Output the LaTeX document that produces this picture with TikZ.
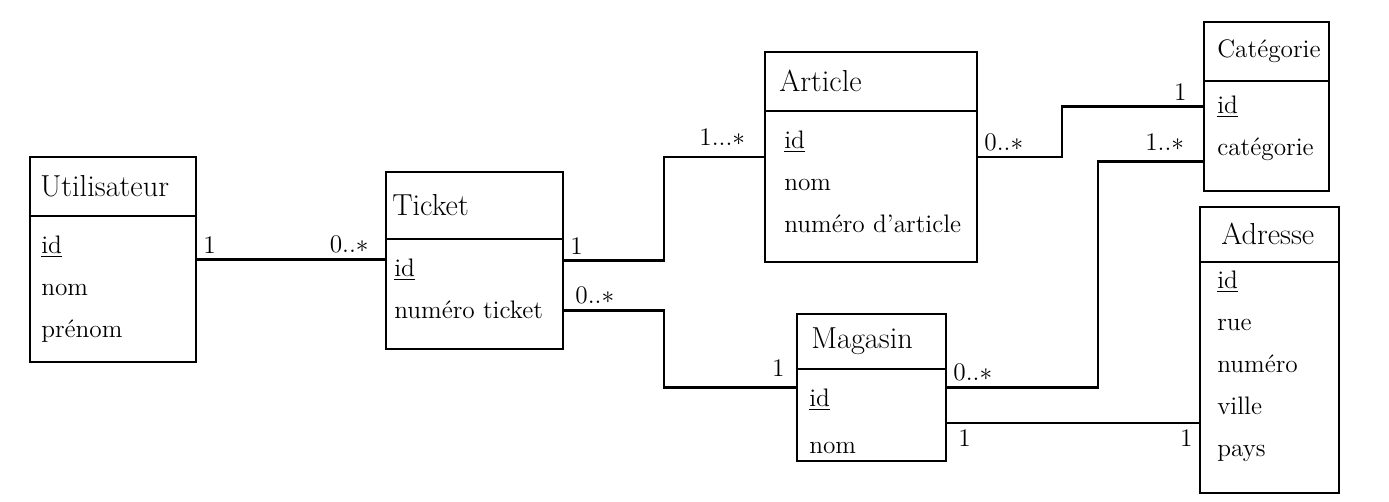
\documentclass[tikz,border=0pt]{standalone}
\usepackage{tikz}
\usetikzlibrary{positioning, calc}
\tikzset{
  classbox/.style={draw, line width=1.2pt, rectangle, inner sep=0pt},
  classname/.style={anchor=west, font=\LARGE, inner sep=0pt},
  attr/.style={anchor=base west, font=\Large, inner sep=0pt},
  assoc/.style={line width=1.2pt},
  mult/.style={font=\Large, inner sep=3pt}
}

\begin{document}
\begin{tikzpicture}
  \useasboundingbox (0,0) rectangle (27.78,-10.02);
  %% Classes: box, header line, name, attributes
  % Utilisateur
  \node[classbox, minimum width=3.32cm, minimum height=4.10cm] (util) at (2.26,-5.19) {};
  \draw[assoc] ([yshift=-1.2cm]util.north west) -- ([yshift=-1.2cm]util.north east);
  \node[classname] (util-name) at ([xshift=0.22cm, yshift=-0.6cm]util.north west) {Utilisateur};
  \foreach \a [count=\i] in {\underline{id}, nom, prénom}
    \node[attr] (util-a\i) at ([xshift=0.24cm, yshift={-1.96cm-(\i-1)*0.84cm}]util.north west) {\a};

  % Ticket
  \node[classbox, minimum width=3.54cm, minimum height=3.54cm] (ticket) at (9.49,-5.21) {};
  \draw[assoc] ([yshift=-1.36cm]ticket.north west) -- ([yshift=-1.36cm]ticket.north east);
  \node[classname] (ticket-name) at ([xshift=0.14cm, yshift=-0.68cm]ticket.north west) {Ticket};
  \foreach \a [count=\i] in {\underline{id}, numéro ticket}
    \node[attr] (ticket-a\i) at ([xshift=0.18cm, yshift={-2.12cm-(\i-1)*0.84cm}]ticket.north west) {\a};

  % Article
  \node[classbox, minimum width=4.24cm, minimum height=4.20cm] (article) at (17.42,-3.14) {};
  \draw[assoc] ([yshift=-1.2cm]article.north west) -- ([yshift=-1.2cm]article.north east);
  \node[classname] (article-name) at ([xshift=0.3cm, yshift=-0.6cm]article.north west) {Article};
  \foreach \a [count=\i] in {\underline{id}, nom, numéro d'article}
    \node[attr] (article-a\i) at ([xshift=0.4cm, yshift={-1.96cm-(\i-1)*0.84cm}]article.north west) {\a};

  % Catégorie
  \node[classbox, minimum width=2.50cm, minimum height=3.38cm] (cat) at (25.33,-2.13) {};
  \draw[assoc] ([yshift=-1.2cm]cat.north west) -- ([yshift=-1.2cm]cat.north east);
  \node[classname, font=\Large] (cat-name) at ([xshift=0.28cm, yshift=-0.6cm]cat.north west) {Catégorie};
  \foreach \a [count=\i] in {\underline{id}, catégorie}
    \node[attr] (cat-a\i) at ([xshift=0.28cm, yshift={-1.86cm-(\i-1)*0.84cm}]cat.north west) {\a};

  % Magasin
  \node[classbox, minimum width=2.98cm, minimum height=2.94cm] (magasin) at (17.43,-7.75) {};
  \draw[assoc] ([yshift=-1.12cm]magasin.north west) -- ([yshift=-1.12cm]magasin.north east);
  \node[classname] (magasin-name) at ([xshift=0.3cm, yshift=-0.56cm]magasin.north west) {Magasin};
  \foreach \a [count=\i] in {\underline{id}, nom}
    \node[attr] (magasin-a\i) at ([xshift=0.26cm, yshift={-1.88cm-(\i-1)*0.94cm}]magasin.north west) {\a};

  % Adresse
  \node[classbox, minimum width=2.78cm, minimum height=5.72cm] (adresse) at (25.39,-7.00) {};
  \draw[assoc] ([yshift=-1.12cm]adresse.north west) -- ([yshift=-1.12cm]adresse.north east);
  \node[classname] (adresse-name) at ([xshift=0.44cm, yshift=-0.56cm]adresse.north west) {Adresse};
  \foreach \a [count=\i] in {\underline{id}, rue, numéro, ville, pays}
    \node[attr] (adresse-a\i) at ([xshift=0.36cm, yshift={-1.66cm-(\i-1)*0.84cm}]adresse.north west) {\a};

  %% Associations
  \coordinate (tbend) at ($(ticket.east)!.5!(article.west)$);
  \coordinate (t-low) at ([yshift=-1cm]ticket.east);
  \coordinate (cat-low) at ([yshift=-1.1cm]cat.west);
  \coordinate (mag-low) at ([yshift=-0.71cm]magasin.east);

  \draw[assoc] (util.east) node[mult, above right] (m-ut-u) {1}
    -- (util.east -| ticket.west) node[mult, above left, xshift=-0.2cm] (m-ut-t) {0..$*$};
  \draw[assoc] (ticket.east) node[mult, above right] (m-ta-t) {1}
    -| (tbend) |- (article.west) node[mult, above left, xshift=-0.25cm, yshift=0.1cm] (m-ta-a) {1...$*$};
  \draw[assoc] (t-low) node[mult, above right, xshift=0.1cm] (m-tm-t) {0..$*$}
    -- (t-low -| tbend) |- (magasin.west) node[mult, above left, xshift=-0.1cm, yshift=0.1cm] (m-tm-m) {1};
  \draw[assoc] (article.east) node[mult, above right] (m-ac-a) {0..$*$}
    -- ++(1.68,0) |- (cat.west) node[mult, above left, xshift=-0.2cm] (m-ac-c) {1};
  \draw[assoc] (magasin.east) node[mult, above right] (m-mc-m) {0..$*$}
    -- ++(3.02,0) |- (cat-low) node[mult, above left, xshift=-0.25cm, yshift=0.1cm] (m-mc-c) {1..$*$};
  \draw[assoc] (mag-low) node[mult, below right, xshift=0.1cm] (m-ma-m) {1}
    -- (mag-low -| adresse.west) node[mult, below left] (m-ma-a) {1};
\end{tikzpicture}
\end{document}
